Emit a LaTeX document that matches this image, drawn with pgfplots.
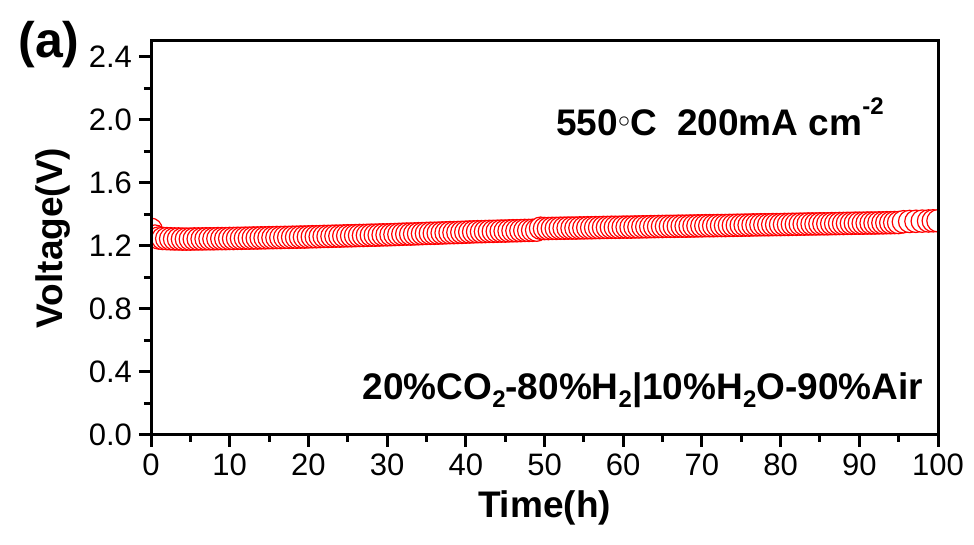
\documentclass[border=0pt]{standalone}
\usepackage{pgfplots}
\pgfplotsset{compat=1.18}
\usepackage{fontspec}
\setmainfont{Liberation Sans}

\newcommand{\sub}[1]{\raisebox{-0.45ex}{\fontsize{12}{12}\selectfont #1}}

\begin{document}
\begin{tikzpicture}
% 1 px of the reference = 0.5pt; axis corner (151,435) px sits at (0,0)
\useasboundingbox (-75.5pt,-55pt) rectangle (411.5pt,217.5pt);
\begin{axis}[
    scale only axis,
    width=393.5pt, height=197pt,
    xmin=0, xmax=100, ymin=0, ymax=2.5,
    xtick={0,10,...,100},
    ytick={0,0.4,...,2.4},
    minor x tick num=1,
    minor y tick num=1,
    xtick pos=left, ytick pos=left,
    tick align=outside,
    major tick length=6pt,
    minor tick length=3.5pt,
    axis line style={line width=1.5pt},
    every tick/.style={line width=1.5pt, black},
    axis on top,
    clip marker paths=true,
    tick label style={font=\fontsize{15.5}{17}\selectfont},
    /pgf/number format/assume math mode=true,
    yticklabel style={/pgf/number format/.cd, fixed, fixed zerofill, precision=1},
    xlabel={\bfseries Time(h)},
    ylabel={\bfseries Voltage(V)},
    label style={font=\fontsize{18.5}{20}\selectfont},
    x label style={at={(axis description cs:0.5,-0.185)}, anchor=center},
    y label style={at={(axis description cs:-0.125,0.5)}, anchor=center},
]
\addplot[only marks, mark=*, mark size=5.6pt,
    mark options={draw=red, fill=white, line width=0.6pt}]
coordinates {
(0,1.305)(0.5,1.262)(1,1.250)(1.5,1.247)(2,1.246)(2.5,1.245)(3,1.244)(3.5,1.244)(4,1.243)(4.5,1.243)
(5,1.243)(5.5,1.244)(6,1.244)(6.5,1.244)(7,1.245)(7.5,1.245)(8,1.245)(8.5,1.246)(9,1.246)(9.5,1.246)
(10,1.247)(10.5,1.247)(11,1.248)(11.5,1.248)(12,1.249)(12.5,1.249)(13,1.250)(13.5,1.250)(14,1.251)(14.5,1.251)
(15,1.252)(15.5,1.252)(16,1.253)(16.5,1.253)(17,1.254)(17.5,1.254)(18,1.255)(18.5,1.255)(19,1.256)(19.5,1.256)
(20,1.257)(20.5,1.258)(21,1.258)(21.5,1.259)(22,1.260)(22.5,1.260)(23,1.261)(23.5,1.262)(24,1.262)(24.5,1.263)
(25,1.264)(25.5,1.264)(26,1.265)(26.5,1.266)(27,1.266)(27.5,1.267)(28,1.268)(28.5,1.268)(29,1.269)(29.5,1.270)
(30,1.270)(30.5,1.271)(31,1.272)(31.5,1.273)(32,1.274)(32.5,1.275)(33,1.275)(33.5,1.276)(34,1.277)(34.5,1.278)
(35,1.279)(35.5,1.280)(36,1.280)(36.5,1.281)(37,1.282)(37.5,1.283)(38,1.284)(38.5,1.284)(39,1.285)(39.5,1.286)
(40,1.287)(40.5,1.288)(41,1.289)(41.5,1.290)(42,1.290)(42.5,1.291)(43,1.292)(43.5,1.292)(44,1.293)(44.5,1.294)
(45,1.294)(45.5,1.295)(46,1.296)(46.5,1.296)(47,1.297)(47.5,1.298)(48,1.298)(48.5,1.299)(49,1.300)(49.5,1.312)
(50,1.310)(50.5,1.310)(51,1.311)(51.5,1.311)(52,1.312)(52.5,1.312)(53,1.313)(53.5,1.313)(54,1.313)(54.5,1.314)
(55,1.314)(55.5,1.315)(56,1.315)(56.5,1.316)(57,1.316)(57.5,1.317)(58,1.317)(58.5,1.318)(59,1.318)(59.5,1.318)
(60,1.319)(60.5,1.319)(61,1.319)(61.5,1.320)(62,1.320)(62.5,1.321)(63,1.321)(63.5,1.322)(64,1.322)(64.5,1.323)
(65,1.323)(65.5,1.324)(66,1.324)(66.5,1.324)(67,1.325)(67.5,1.325)(68,1.325)(68.5,1.326)(69,1.326)(69.5,1.327)
(70,1.327)(70.5,1.328)(71,1.328)(71.5,1.328)(72,1.329)(72.5,1.329)(73,1.329)(73.5,1.330)(74,1.330)(74.5,1.331)
(75,1.331)(75.5,1.332)(76,1.332)(76.5,1.333)(77,1.333)(77.5,1.334)(78,1.334)(78.5,1.334)(79,1.335)(79.5,1.335)
(80,1.335)(80.5,1.336)(81,1.336)(81.5,1.337)(82,1.337)(82.5,1.338)(83,1.338)(83.5,1.339)(84,1.339)(84.5,1.339)
(85,1.340)(85.5,1.340)(86,1.340)(86.5,1.341)(87,1.341)(87.5,1.342)(88,1.342)(88.5,1.343)(89,1.343)(89.5,1.344)
(90,1.344)(90.5,1.344)(91,1.345)(91.5,1.345)(92,1.345)(92.5,1.346)(93,1.346)(93.5,1.347)(94,1.347)(94.5,1.348)
(95,1.348)(95.6,1.353)(96.4,1.355)(97.2,1.356)(98,1.357)(98.8,1.358)(99.4,1.359)(100,1.359)
};
\node[font=\fontsize{18.5}{20}\selectfont\bfseries, anchor=center]
    at (axis description cs:0.723,0.807) {550\raisebox{0.45ex}{$\scriptstyle\circ$}C\ \ 200mA cm\raisebox{1.1ex}{\fontsize{12}{12}\selectfont -2}};
\node[font=\fontsize{18.5}{20}\selectfont\bfseries, anchor=east]
    at (axis description cs:0.99,0.114) {20\%CO\sub{2}-80\%H\sub{2}|10\%H\sub{2}O-90\%Air};
\end{axis}
\node[font=\fontsize{25}{28}\selectfont\bfseries, anchor=center] at (-51pt,195pt) {(a)};
\end{tikzpicture}
\end{document}
